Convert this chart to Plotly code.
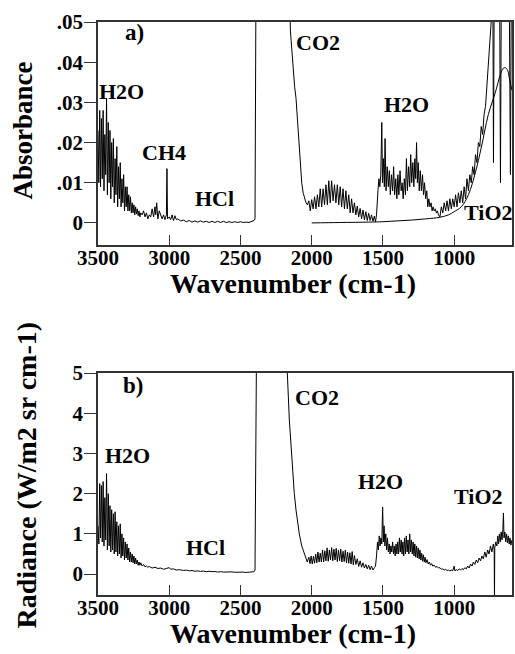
import plotly.graph_objects as go

# ---------------- Panel a: absorbance spectrum ----------------
wn_a = [3500, 3494, 3488, 3482, 3476, 3470, 3464, 3458, 3452, 3446, 3440, 3434, 3428, 3422, 3416, 3410,
        3404, 3398, 3392, 3386, 3380, 3374, 3368, 3362, 3356, 3350, 3344, 3338, 3332, 3326, 3320, 3314,
        3308, 3302, 3296, 3290, 3284, 3278, 3272, 3266, 3260, 3254, 3248, 3242, 3236, 3230, 3224, 3218,
        3212, 3206, 3200, 3190, 3180, 3170, 3160, 3150, 3140, 3130, 3120, 3110, 3100, 3095, 3088, 3080,
        3070, 3060, 3050, 3040, 3030, 3020, 3016, 3012, 3000, 2990, 2980, 2970, 2960, 2950, 2940, 2920,
        2900, 2880, 2860, 2840, 2820, 2800, 2780, 2760, 2740, 2720, 2700, 2680, 2660, 2640, 2620, 2600,
        2580, 2560, 2540, 2520, 2500, 2480, 2460, 2440, 2420, 2405, 2398, 2394, 2392, 2300, 2200, 2155,
        2150, 2140, 2130, 2120, 2110, 2100, 2090, 2080, 2070, 2060, 2050, 2040, 2030,
        2020, 2010, 2000, 1990, 1980, 1970, 1960, 1950, 1940, 1930, 1920, 1910, 1900, 1890, 1880, 1870,
        1860, 1850, 1840, 1830, 1820, 1810, 1800, 1790, 1780, 1770, 1760, 1750, 1740, 1730, 1720, 1710,
        1700, 1690, 1680, 1670, 1660, 1650, 1640, 1630, 1620, 1610, 1600, 1590, 1580, 1570, 1560, 1552,
        1545, 1535, 1528, 1522, 1515, 1508, 1503, 1497, 1490, 1485, 1478, 1470, 1462, 1455, 1448, 1440,
        1432, 1425, 1418, 1410, 1402, 1395, 1388, 1380, 1372, 1365, 1358, 1350, 1342, 1335, 1328, 1320,
        1312, 1305, 1298, 1290, 1283, 1276, 1270, 1264, 1258, 1252, 1245, 1238, 1230, 1222, 1215, 1208,
        1200, 1192, 1185, 1178, 1170, 1162, 1155, 1148, 1140, 1132, 1125, 1118, 1110, 1100, 1090, 1080,
        1070, 1060, 1050, 1040, 1030, 1020, 1010, 1000, 990, 980, 970, 960, 950, 940, 930, 920,
        910, 900, 890, 880, 870, 860, 850, 840, 830, 820, 810, 800, 790, 780, 770, 760,
        750, 740, 735, 728, 724, 720, 712, 700, 690, 680, 675, 670, 660, 650, 640, 630,
        620, 612, 605, 600, 594]
abs_a = [0.023, 0.010, 0.028, 0.009, 0.026, 0.011, 0.028, 0.008, 0.022, 0.012, 0.031, 0.007, 0.025, 0.010, 0.023, 0.006,
         0.020, 0.009, 0.021, 0.005, 0.016, 0.007, 0.019, 0.004, 0.014, 0.006, 0.015, 0.004, 0.011, 0.005, 0.012, 0.003,
         0.009, 0.004, 0.009, 0.003, 0.007, 0.003, 0.0065, 0.0025, 0.005, 0.0025, 0.0045, 0.002, 0.004, 0.0022, 0.0035, 0.0018,
         0.003, 0.0015, 0.0025, 0.002, 0.003, 0.0015, 0.0025, 0.001, 0.002, 0.0015, 0.0035, 0.0015, 0.004, 0.002, 0.005, 0.001,
         0.003, 0.002, 0.001, 0.002, 0.0008, 0.002, 0.0135, 0.001, 0.0015, 0.0008, 0.002, 0.0006, 0.0018, 0.0008, 0.001, 0.0005,
         0.0007, 0.0003, 0.0006, 0.0002, 0.0005, 0.0002, 0.0005, 0.0002, 0.0004, 0.0001, 0.0004, 0.0001, 0.0004, 0.0001, 0.0004, 0.0001,
         0.0003, 0.0001, 0.0003, 0.0001, 0.0003, 0.0001, 0.0002, 0.0001, 0.0003, 0.0006, 0.001, 0.045, 0.052, 0.06, 0.06, 0.06,
         0.048, 0.043, 0.038, 0.034, 0.031, 0.025, 0.019, 0.014, 0.010, 0.0075, 0.006, 0.005, 0.0045,
         0.0055, 0.003, 0.0058, 0.0035, 0.0065, 0.0035, 0.007, 0.004, 0.0085, 0.004, 0.0085, 0.0045, 0.0095, 0.0045, 0.0105, 0.005,
         0.0105, 0.0055, 0.0095, 0.005, 0.0095, 0.0045, 0.009, 0.004, 0.0085, 0.0035, 0.008, 0.0035, 0.007, 0.0025, 0.006, 0.0025,
         0.005, 0.002, 0.0042, 0.0015, 0.0036, 0.001, 0.0032, 0.0008, 0.0028, 0.0006, 0.0024, 0.0006, 0.002, 0.0004, 0.0017, 0.0003,
         0.002, 0.008, 0.011, 0.009, 0.012, 0.025, 0.010, 0.016, 0.009, 0.021, 0.008, 0.014, 0.009, 0.013, 0.007, 0.012,
         0.008, 0.014, 0.007, 0.011, 0.006, 0.012, 0.007, 0.013, 0.008, 0.010, 0.006, 0.011, 0.007, 0.016, 0.008, 0.014,
         0.009, 0.017, 0.010, 0.015, 0.009, 0.016, 0.011, 0.020, 0.010, 0.015, 0.008, 0.013, 0.008, 0.012, 0.007, 0.010,
         0.006, 0.008, 0.004, 0.006, 0.004, 0.005, 0.003, 0.004, 0.003, 0.0035, 0.0025, 0.003, 0.002, 0.0015, 0.004, 0.0025,
         0.005, 0.003, 0.0055, 0.003, 0.006, 0.0035, 0.006, 0.004, 0.007, 0.004, 0.0075, 0.005, 0.008, 0.005, 0.009, 0.006,
         0.011, 0.008, 0.012, 0.010, 0.014, 0.012, 0.017, 0.015, 0.020, 0.019, 0.024, 0.022, 0.027, 0.029, 0.034, 0.038,
         0.044, 0.05, 0.06, 0.055, 0.015, 0.05, 0.06, 0.055, 0.06, 0.052, 0.010, 0.05, 0.06, 0.055, 0.06, 0.058,
         0.06, 0.05, 0.012, 0.05, 0.055]

# smooth TiO2 baseline curve in panel a
wn_tio2 = [2000, 1800, 1600, 1500, 1400, 1300, 1200, 1100, 1040, 1000, 950, 900, 850, 810, 760, 710, 675, 655, 640, 625, 610, 594]
abs_tio2 = [0.0, 0.0001, 0.0002, 0.0003, 0.0005, 0.0007, 0.001, 0.0014, 0.002, 0.0028, 0.004, 0.007, 0.0127, 0.0187,
            0.027, 0.0326, 0.037, 0.0385, 0.0386, 0.038, 0.0355, 0.033]

# ---------------- Panel b: radiance spectrum ----------------
wn_b = [3500, 3494, 3488, 3482, 3476, 3470, 3464, 3458, 3452, 3446, 3440, 3434, 3428, 3422, 3416, 3410,
        3404, 3398, 3392, 3386, 3380, 3374, 3368, 3362, 3356, 3350, 3344, 3338, 3332, 3326, 3320, 3314,
        3308, 3302, 3296, 3290, 3284, 3278, 3272, 3266, 3260, 3254, 3248, 3242, 3236, 3230, 3224, 3218,
        3212, 3206, 3200, 3190, 3180, 3170, 3160, 3150, 3140, 3120, 3100, 3080, 3060, 3040, 3020, 3000,
        2990, 2970, 2950, 2930, 2900, 2880, 2860, 2840, 2820, 2800, 2780, 2760, 2740, 2720, 2700, 2680,
        2660, 2640, 2620, 2600, 2580, 2560, 2540, 2520, 2500, 2480, 2460, 2440, 2420, 2405, 2398, 2394,
        2392, 2390, 2388, 2300, 2200, 2180, 2171, 2157, 2145, 2134, 2122, 2110, 2098, 2087, 2070, 2052,
        2040, 2031, 2020, 2012, 2004, 1996, 1988, 1980, 1972, 1964, 1956, 1948, 1940, 1932, 1924, 1916,
        1908, 1900, 1892, 1884, 1876, 1868, 1860, 1852, 1844, 1836, 1828, 1820, 1812, 1804, 1796, 1788,
        1780, 1772, 1764, 1756, 1748, 1740, 1732, 1724, 1716, 1708, 1700, 1690, 1680, 1670, 1660, 1650,
        1640, 1630, 1620, 1610, 1600, 1590, 1580, 1570, 1560, 1552, 1545, 1538, 1532, 1526, 1520, 1514,
        1508, 1502, 1497, 1492, 1486, 1480, 1474, 1468, 1462, 1456, 1450, 1444, 1438, 1432, 1426, 1420,
        1414, 1408, 1402, 1396, 1390, 1384, 1378, 1372, 1366, 1360, 1354, 1348, 1342, 1336, 1330, 1324,
        1318, 1312, 1306, 1300, 1294, 1288, 1282, 1276, 1270, 1264, 1258, 1252, 1246, 1240, 1234, 1228,
        1222, 1216, 1210, 1204, 1198, 1190, 1182, 1174, 1166, 1158, 1150, 1140, 1130, 1120, 1110, 1100,
        1090, 1080, 1070, 1060, 1050, 1040, 1030, 1020, 1010, 1000, 995, 985, 975, 965, 955, 945,
        935, 925, 915, 905, 895, 885, 875, 865, 855, 845, 835, 825, 815, 805, 795, 785,
        775, 765, 755, 745, 735, 725, 719, 717, 715, 708, 700, 694, 688, 682, 676, 670,
        664, 658, 654, 650, 644, 638, 632, 626, 620, 614, 608, 602, 594]
rad_b = [1.2, 0.75, 2.25, 0.9, 2.2, 0.8, 2.3, 0.7, 1.9, 0.85, 2.5, 0.6, 2.0, 0.7, 1.7, 0.55,
         1.6, 0.6, 1.5, 0.5, 1.55, 0.55, 1.3, 0.45, 1.2, 0.5, 1.25, 0.4, 1.0, 0.45, 0.9, 0.35,
         0.8, 0.4, 0.75, 0.35, 0.65, 0.3, 0.55, 0.3, 0.5, 0.28, 0.45, 0.25, 0.4, 0.25, 0.35, 0.22,
         0.3, 0.22, 0.28, 0.2, 0.24, 0.18, 0.2, 0.17, 0.19, 0.15, 0.17, 0.14, 0.15, 0.12, 0.14, 0.16,
         0.12, 0.13, 0.1, 0.11, 0.09, 0.1, 0.08, 0.09, 0.07, 0.08, 0.065, 0.075, 0.06, 0.07, 0.06, 0.065,
         0.05, 0.06, 0.05, 0.055, 0.045, 0.055, 0.045, 0.05, 0.04, 0.05, 0.04, 0.05, 0.045, 0.06, 0.1, 3.5,
         4.6, 4.8, 5.3, 5.4, 5.4, 5.2, 5.0, 3.83, 3.1, 2.59, 2.0, 1.59, 1.2, 1.0, 0.7, 0.52,
         0.42, 0.3, 0.42, 0.26, 0.45, 0.25, 0.44, 0.27, 0.5, 0.28, 0.55, 0.3, 0.52, 0.3, 0.6, 0.3,
         0.58, 0.33, 0.65, 0.32, 0.6, 0.35, 0.66, 0.33, 0.62, 0.35, 0.64, 0.31, 0.6, 0.33, 0.62, 0.3,
         0.57, 0.31, 0.6, 0.28, 0.55, 0.27, 0.53, 0.25, 0.56, 0.23, 0.46, 0.24, 0.38, 0.19, 0.33, 0.17,
         0.28, 0.15, 0.24, 0.13, 0.22, 0.11, 0.2, 0.1, 0.16, 0.2, 0.45, 0.8, 0.6, 0.95, 0.7, 0.9,
         0.75, 1.67, 0.8, 1.2, 0.7, 1.0, 0.6, 0.9, 0.55, 0.75, 0.5, 0.7, 0.55, 0.8, 0.5, 0.7,
         0.45, 0.75, 0.5, 0.8, 0.5, 0.9, 0.55, 0.85, 0.5, 0.8, 0.45, 0.9, 0.5, 0.95, 0.55, 0.85,
         0.5, 1.0, 0.55, 0.85, 0.5, 0.8, 0.45, 0.75, 0.42, 0.7, 0.4, 0.65, 0.38, 0.6, 0.35, 0.52,
         0.32, 0.48, 0.3, 0.42, 0.28, 0.36, 0.25, 0.3, 0.22, 0.26, 0.2, 0.22, 0.17, 0.19, 0.15, 0.16,
         0.12, 0.13, 0.1, 0.12, 0.09, 0.1, 0.08, 0.1, 0.08, 0.2, 0.08, 0.11, 0.09, 0.13, 0.1, 0.14,
         0.11, 0.16, 0.13, 0.2, 0.15, 0.25, 0.2, 0.3, 0.24, 0.35, 0.28, 0.4, 0.33, 0.45, 0.38, 0.55,
         0.42, 0.6, 0.5, 0.7, 0.55, 0.75, 0.6, -0.6, 0.65, 0.8, 0.7, 0.95, 0.75, 1.0, 0.8, 1.05,
         0.85, 1.1, 1.52, 0.9, 1.05, 0.8, 1.0, 0.78, 0.95, 0.75, 0.9, 0.72, 0.85]

# axis ticks
x_ticks = [3500, 3000, 2500, 2000, 1500, 1000]
x_ticklabels = ["3500", "3000", "2500", "2000", "1500", "1000"]
ya_ticks = [0, 0.01, 0.02, 0.03, 0.04, 0.05]
ya_ticklabels = ["0", ".01", ".02", ".03", ".04", ".05"]
yb_ticks = [0, 1, 2, 3, 4, 5]
yb_ticklabels = ["0", "1", "2", "3", "4", "5"]

# peak labels
labels_a = ["a)", "H2O", "CH4", "HCl", "CO2", "H2O", "TiO2"]
labels_a_x = [3241, 3332, 3038, 2682, 1955, 1332, 759]
labels_a_y = [0.0473, 0.0328, 0.0174, 0.0062, 0.045, 0.0294, 0.0025]
labels_b = ["b)", "H2O", "HCl", "CO2", "H2O", "TiO2"]
labels_b_x = [3255, 3290, 2745, 1962, 1514, 829]
labels_b_y = [4.70, 2.96, 0.67, 4.40, 2.29, 1.92]

FONT = "Liberation Serif, Times New Roman, serif"

fig = go.Figure()
fig.add_trace(go.Scatter(x=wn_a, y=abs_a, mode="lines", line=dict(color="black", width=1),
                         xaxis="x", yaxis="y", showlegend=False, hoverinfo="skip"))
fig.add_trace(go.Scatter(x=wn_tio2, y=abs_tio2, mode="lines", line=dict(color="black", width=1, shape="spline"),
                         xaxis="x", yaxis="y", showlegend=False, hoverinfo="skip"))
fig.add_trace(go.Scatter(x=wn_b, y=rad_b, mode="lines", line=dict(color="black", width=1),
                         xaxis="x2", yaxis="y2", showlegend=False, hoverinfo="skip"))

tickfont = dict(family=FONT, size=21, color="black", weight="bold")
xcommon = dict(range=[3500, 594], tickvals=x_ticks, ticktext=x_ticklabels, ticks="inside", ticklen=10,
               tickcolor="#333", showline=True, linecolor="#333", linewidth=1.5, mirror=True,
               showgrid=False, zeroline=False, tickfont=tickfont, ticklabelstandoff=-7)
ycommon = dict(ticks="outside", ticklen=12, tickcolor="#333", showline=True, linecolor="#333", linewidth=1.5,
               mirror=True, showgrid=False, zeroline=False, tickfont=tickfont, ticklabelstandoff=-3)

annotations = []
for t, x, y in zip(labels_a, labels_a_x, labels_a_y):
    annotations.append(dict(text=t, x=x, y=y, xref="x", yref="y", showarrow=False,
                            font=dict(family=FONT, size=23 if t.endswith(")") else 22, color="black", weight="bold")))
for t, x, y in zip(labels_b, labels_b_x, labels_b_y):
    annotations.append(dict(text=t, x=x, y=y, xref="x2", yref="y2", showarrow=False,
                            font=dict(family=FONT, size=23 if t.endswith(")") else 22, color="black", weight="bold")))

titlefont = dict(family=FONT, size=27, color="black", weight="bold")
xtitlefont = dict(family=FONT, size=28, color="black", weight="bold")
annotations += [
    dict(text="Absorbance", x=-0.18, y=0.8115, xref="paper", yref="paper", showarrow=False,
         textangle=-90, font=titlefont, xanchor="center", yanchor="middle"),
    dict(text="Radiance (W/m2 sr cm-1)", x=-0.175, y=0.2094, xref="paper", yref="paper", showarrow=False,
         textangle=-90, font=dict(family=FONT, size=28, color="black", weight="bold"), xanchor="center", yanchor="middle"),
    dict(text="Wavenumber (cm-1)", x=0.471, y=0.544, xref="paper", yref="paper", showarrow=False,
         font=xtitlefont, xanchor="center", yanchor="middle"),
    dict(text="Wavenumber (cm-1)", x=0.471, y=-0.068, xref="paper", yref="paper", showarrow=False,
         font=xtitlefont, xanchor="center", yanchor="middle"),
]

fig.update_layout(
    width=515, height=654,
    margin=dict(l=98, r=1, t=22, b=59),
    paper_bgcolor="white", plot_bgcolor="white",
    xaxis=dict(domain=[0, 1], anchor="y", **xcommon),
    yaxis=dict(domain=[0.6108, 1], anchor="x", range=[-0.0055, 0.05], tickvals=ya_ticks,
               ticktext=ya_ticklabels, **ycommon),
    xaxis2=dict(domain=[0, 1], anchor="y2", **xcommon),
    yaxis2=dict(domain=[0, 0.3874], anchor="x2", range=[-0.52, 5.0], tickvals=yb_ticks,
                ticktext=yb_ticklabels, **ycommon),
    annotations=annotations,
)

fig.write_html("out.html", config={"displayModeBar": False},
               post_script="document.body.style.margin='0px';document.body.style.overflow='hidden';")
